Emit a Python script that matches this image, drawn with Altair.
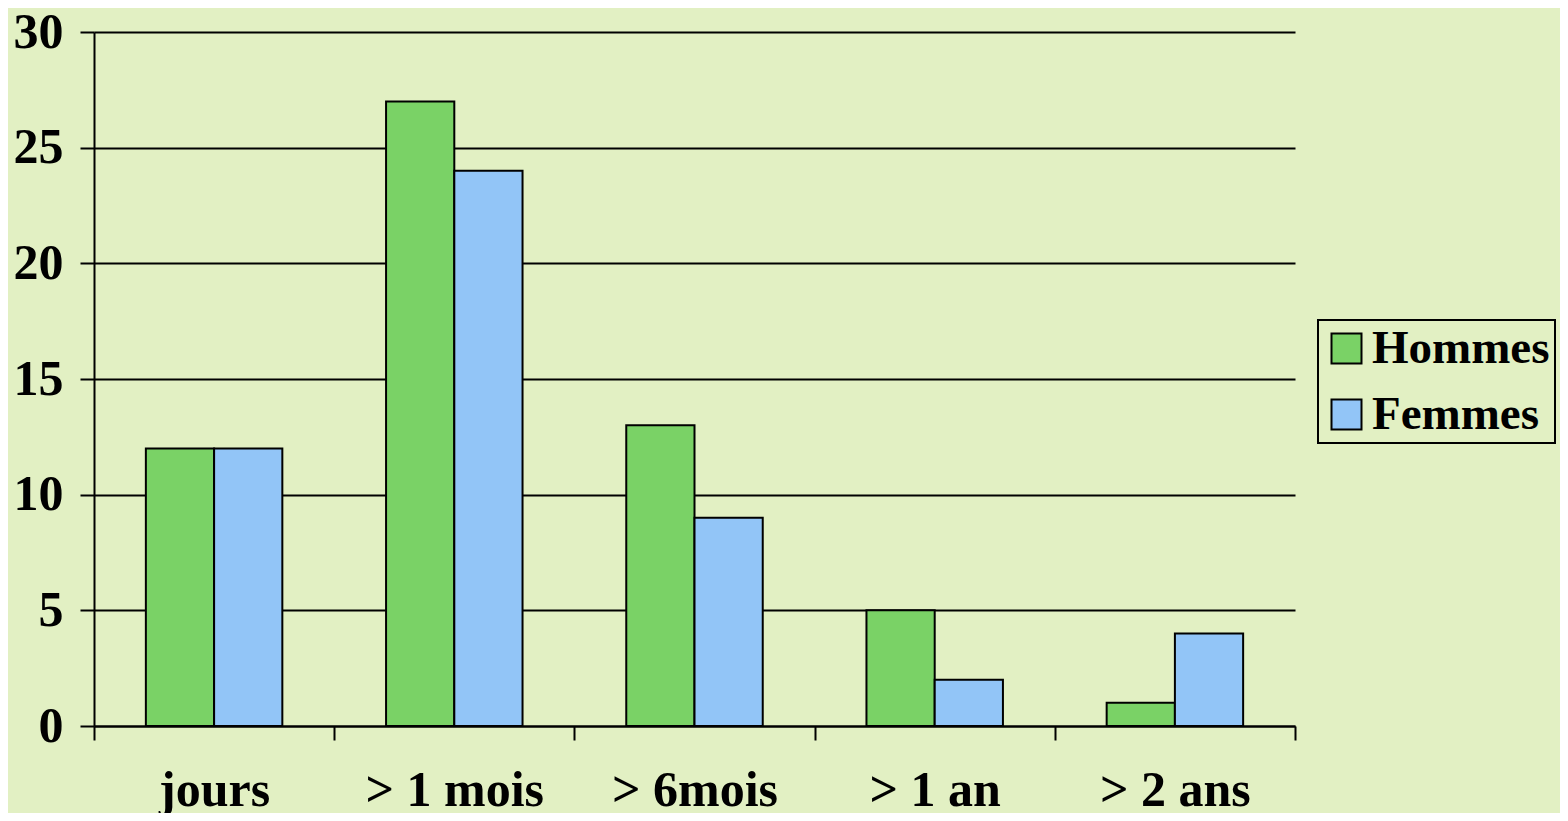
import altair as alt
import pandas as pd

categories = ["jours", "> 1 mois", "> 6mois", "> 1 an", "> 2 ans"]
hommes = [12, 27, 13, 5, 1]
femmes = [12, 24, 9, 2, 4]
series = ["Hommes", "Femmes"]
colors = ["#7ad266", "#92c5f7"]

rows = []
for c, h, f in zip(categories, hommes, femmes):
    rows.append({"cat": c, "serie": "Hommes", "val": h})
    rows.append({"cat": c, "serie": "Femmes", "val": f})
df = pd.DataFrame(rows)

FONT = "Liberation Serif"

chart = alt.Chart(df).mark_bar(stroke="black", strokeWidth=2).encode(
    x=alt.X("cat:N", sort=categories, title=None,
            scale=alt.Scale(paddingInner=0, paddingOuter=0),
            axis=alt.Axis(labelAngle=0, tickBand="extent", domainColor="black",
                          domainWidth=2, tickColor="black", tickWidth=2, tickSize=14,
                          labelFont=FONT, labelFontWeight="bold", labelFontSize=50,
                          labelColor="black", labelPadding=25, grid=False)),
    xOffset=alt.XOffset("serie:N", sort=series,
                        scale=alt.Scale(paddingInner=0, paddingOuter=0.76)),
    y=alt.Y("val:Q", title=None,
            scale=alt.Scale(domain=[0, 30], nice=False),
            axis=alt.Axis(values=[0, 5, 10, 15, 20, 25, 30], domainColor="black",
                          domainWidth=2, tickColor="black", tickWidth=2, tickSize=14,
                          gridColor="black", gridWidth=2, gridOpacity=1,
                          labelFont=FONT, labelFontWeight="bold", labelFontSize=50,
                          labelColor="black", labelPadding=17)),
    color=alt.Color("serie:N", sort=series,
                    scale=alt.Scale(domain=series, range=colors),
                    legend=alt.Legend(title=None, orient="none", legendX=1224, legendY=288,
                                      strokeColor="black", padding=5,
                                      symbolType="square", symbolSize=900,
                                      symbolStrokeColor="black", symbolStrokeWidth=2,
                                      symbolOpacity=1,
                                      labelFont=FONT, labelFontWeight="bold",
                                      labelFontSize=47, labelColor="black",
                                      labelLimit=400, rowPadding=18, labelOffset=2)),
).properties(
    width=1201, height=694,
    background="#e2f0c3",
    padding={"left": 86, "top": 24, "right": 265, "bottom": 87},
    autosize=alt.AutoSizeParams(type="none"),
).configure_view(stroke=None).configure_legend(strokeWidth=2)

chart.save("out.html", embed_options={"renderer": "svg", "actions": False})
